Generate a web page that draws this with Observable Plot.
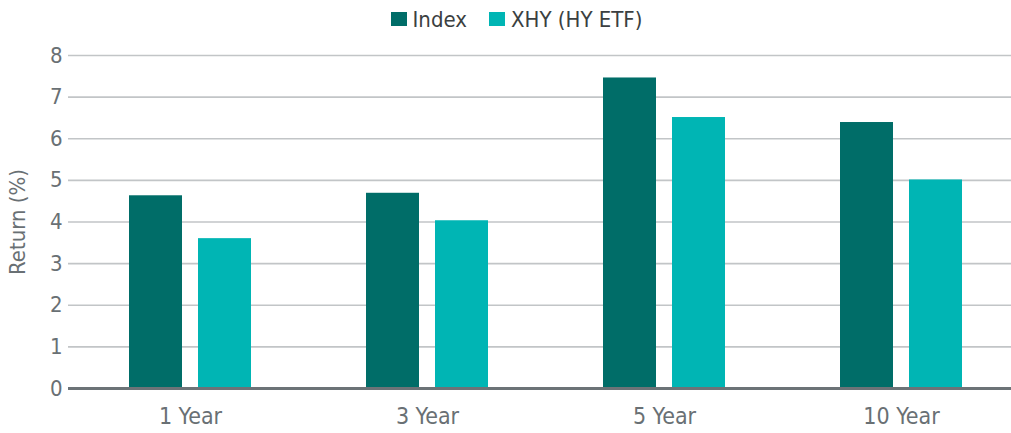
<!DOCTYPE html>
<html>
<head>
<meta charset="utf-8">
<script src="https://cdn.jsdelivr.net/npm/d3@7"></script>
<script src="https://cdn.jsdelivr.net/npm/@observablehq/plot@0.6"></script>
<style>
  html, body { margin: 0; padding: 0; background: #fff; }
  body { width: 1011px; height: 433px; overflow: hidden;
         font-family: "Liberation Sans Narrow", "DejaVu Sans Condensed", "Liberation Sans", sans-serif; font-stretch: condensed; }
  #legend { height: 38px; display: flex; justify-content: center; align-items: center; gap: 22px;
            font-size: 22px; color: #3b3f41; padding-left: 22px; box-sizing: border-box; }
  .item { display: flex; align-items: center; gap: 6px; }
  .sw { width: 16px; height: 14px; display: inline-block; }
  svg { display: block; }
</style>
</head>
<body>
<div id="legend"></div>
<div id="chart"></div>
<script>
const periods = ["1 Year", "3 Year", "5 Year", "10 Year"];
const seriesNames = ["Index", "XHY (HY ETF)"];
const indexValues = [4.63, 4.69, 7.46, 6.39];
const xhyValues = [3.60, 4.03, 6.51, 5.01];
const yTicks = [0, 1, 2, 3, 4, 5, 6, 7, 8];
const colors = ["#006d68", "#00b5b4"];

const indexData = periods.map((p, i) => ({period: p, series: seriesNames[0], value: indexValues[i]}));
const xhyData = periods.map((p, i) => ({period: p, series: seriesNames[1], value: xhyValues[i]}));

// legend
const legend = document.getElementById("legend");
seriesNames.forEach((s, i) => {
  const it = document.createElement("span");
  it.className = "item";
  it.innerHTML = `<span class="sw" style="background:${colors[i]}"></span><span>${s}</span>`;
  legend.appendChild(it);
});

const font = `"Liberation Sans Narrow", "DejaVu Sans Condensed", "Liberation Sans", sans-serif`;

const chart = Plot.plot({
  width: 1011,
  height: 395,
  marginTop: 17,
  marginBottom: 45,
  marginLeft: 68,
  marginRight: 0,
  style: {fontFamily: font, fontSize: "23px", color: "#697074", background: "#fff"},
  x: {type: "band", domain: periods, paddingInner: 0.4832, paddingOuter: 0.2227, align: 0.557},
  y: {domain: [0, 8]},
  marks: [
    Plot.ruleY(yTicks.slice(1), {stroke: "#c2c5c7", strokeWidth: 1.6}),
    Plot.barY(indexData, {x: "period", y: "value", fill: colors[0], insetRight: 69}),
    Plot.barY(xhyData, {x: "period", y: "value", fill: colors[1], insetLeft: 69}),
    Plot.ruleY([0], {stroke: "#6c7377", strokeWidth: 3}),
    Plot.axisY({ticks: yTicks, tickSize: 0, tickPadding: 6, tickFormat: d3.format("d"),
                label: "Return (%)", labelAnchor: "center", labelOffset: 59, labelArrow: "none", fontSize: 22}),
    Plot.axisX({tickSize: 0, tickPadding: 19, label: null})
  ]
});
document.getElementById("chart").appendChild(chart);
</script>
</body>
</html>
